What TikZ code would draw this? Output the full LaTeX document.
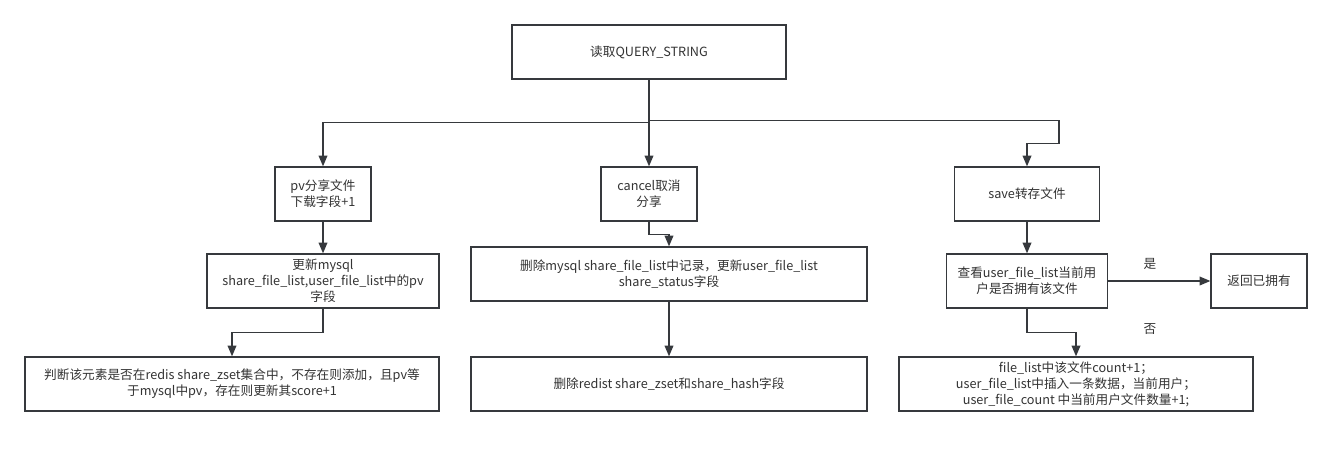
\documentclass[tikz,border=0pt]{standalone}
\usepackage{fontspec}
\setmainfont{Noto Sans CJK SC}
\usetikzlibrary{arrows.meta}
\definecolor{linegray}{HTML}{36393D}
\definecolor{textgray}{HTML}{333333}
\tikzset{
    box/.style={draw=linegray, line width=1pt, fill=white, inner sep=0pt,
        minimum height=40.5pt, align=center, text=textgray,
        font=\fontsize{9.5pt}{12pt}\selectfont},
    arr/.style={draw=linegray, line width=1pt,
        -{Triangle[length=8pt,width=6.5pt]}},
    lbl/.style={text=textgray, font=\fontsize{9.5pt}{12pt}\selectfont}
}
\begin{document}
\begin{tikzpicture}[x=0.75pt,y=-0.75pt]
    \useasboundingbox[fill=white] (0,0) rectangle (1333,456);
    \node[box, minimum width=205.5pt] (query) at (649,52) {读取QUERY\_STRING};

    \node[box, minimum width=72pt] (pv) at (323,194) {pv分享文件\\下载字段+1};
    \node[box, minimum width=72pt] (cancel) at (649,194) {cancel取消\\分享};
    \node[box, minimum width=108.75pt] (save) at (1027,194) {save转存文件};

    \node[box, minimum width=174pt] (pvsql) at (323,281)
        {更新mysql\\share\_file\_list,user\_file\_list中的pv\\字段};
    \node[box, minimum width=297pt] (delsql) at (669,274)
        {删除mysql share\_file\_list中记录，更新user\_file\_list\\share\_status字段};
    \node[box, minimum width=120.75pt] (check) at (1027,281)
        {查看user\_file\_list当前用\\户是否拥有该文件};
    \node[box, minimum width=72pt] (owned) at (1259,281) {返回已拥有};

    \node[box, minimum width=310.5pt] (zset) at (232,384)
        {判断该元素是否在redis share\_zset集合中，不存在则添加，且pv等\\于mysql中pv，存在则更新其score+1};
    \node[box, minimum width=297pt] (delredis) at (669,384)
        {删除redist share\_zset和share\_hash字段};
    \node[box, minimum width=265.5pt] (insert) at (1076,384)
        {file\_list中该文件count+1；\\user\_file\_list中插入一条数据，当前用户；\\user\_file\_count 中当前用户文件数量+1;};

    \draw[arr] (query.south) -- ++(0,43) -| (pv.north);
    \draw[arr] (query.south) -- (cancel.north);
    \draw[arr] (query.south) -- ++(0,41) -| ++(410,23) -| (save.north);

    \draw[arr] (pv) -- (pvsql);
    \draw[arr] (pvsql.south) -- ++(0,24) -| (zset.north);
    \draw[arr] (cancel.south) -- ++(0,13) -| (delsql.north);
    \draw[arr] (delsql) -- (delredis);
    \draw[arr] (save) -- (check);
    \draw[arr] (check) -- node[lbl, pos=0.41, above=5pt] (yes) {是} (owned);
    \draw[arr] (check.south) -- ++(0,24) -| (insert.north);
    \node[lbl] (no) at (1150,329) {否};
\end{tikzpicture}
\end{document}
